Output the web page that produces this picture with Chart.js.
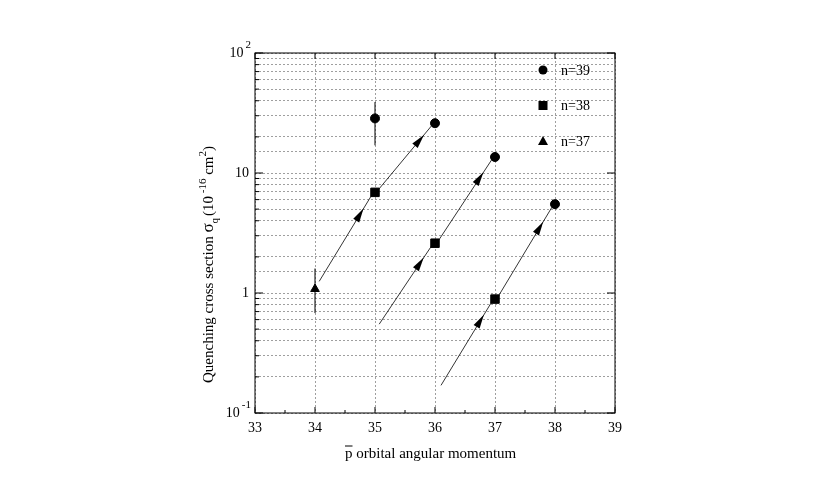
<!DOCTYPE html>
<html><head><meta charset="utf-8">
<script src="https://cdn.jsdelivr.net/npm/chart.js@4/dist/chart.umd.min.js"></script>
<style>html,body{margin:0;background:#fff}#w{width:820px;height:501px}</style>
</head><body><div id="w"><canvas id="c"></canvas></div>
<script>
const n39x=[35,36,37,38], n39y=[28.5,26,13.6,5.5];
const n38x=[35,36,37], n38y=[6.9,2.6,0.89];
const n37x=[34], n37y=[1.08];
const errX=[35,34], errLo=[17,0.68], errHi=[39,1.6];
const segs=[[34.07,1.25,34.95,6.6],[35.05,7.2,35.95,25],[35.07,0.55,35.95,2.5],[36.05,2.7,36.95,13],[36.1,0.17,36.95,0.85],[37.05,0.93,37.95,5.2]];
const xTicks=[33,34,35,36,37,38,39];
const F='"Liberation Serif",serif';
const pts=(xs,ys)=>xs.map((x,i)=>({x,y:ys[i]}));
const ds=[
 {data:pts(n39x,n39y),pointStyle:'circle',radius:4.5,backgroundColor:'#000',borderColor:'#000'},
 {data:pts(n38x,n38y),pointStyle:'rect',radius:6,backgroundColor:'#000',borderColor:'#000'},
 {data:pts(n37x,n37y),pointStyle:'triangle',radius:5,backgroundColor:'#000',borderColor:'#000'}
];
segs.forEach(s=>ds.push({data:[{x:s[0],y:s[1]},{x:s[2],y:s[3]}],showLine:true,radius:0,borderColor:'#000',borderWidth:0.8}));
errX.forEach((x,i)=>ds.push({data:[{x,y:errLo[i]},{x,y:errHi[i]}],showLine:true,radius:0,borderColor:'#000',borderWidth:1}));
const deco={id:'deco',afterDatasetsDraw(ch){
 const c=ch.ctx,a=ch.chartArea,xs=ch.scales.x,ys=ch.scales.y;
 c.save();
 c.strokeStyle='#000';c.lineWidth=1;c.strokeRect(a.left,a.top,a.right-a.left,a.bottom-a.top);
 segs.forEach(s=>{const x1=xs.getPixelForValue(s[0]),y1=ys.getPixelForValue(s[1]),x2=xs.getPixelForValue(s[2]),y2=ys.getPixelForValue(s[3]);
  const t=0.78,px=x1+(x2-x1)*t,py=y1+(y2-y1)*t,an=Math.atan2(y2-y1,x2-x1);
  c.save();c.translate(px,py);c.rotate(an);c.beginPath();c.moveTo(6,0);c.lineTo(-8,-3.5);c.lineTo(-8,3.5);c.closePath();c.fillStyle='#000';c.fill();c.restore();});
 c.fillStyle='#000';c.font='14px '+F;c.textAlign='center';c.textBaseline='top';
 xTicks.forEach(v=>{const x=xs.getPixelForValue(v);c.beginPath();c.moveTo(x,a.bottom);c.lineTo(x,a.bottom-6);c.moveTo(x,a.top);c.lineTo(x,a.top+6);c.stroke();c.fillText(String(v),x,a.bottom+8);});
 for(let v=33.5;v<39;v+=1){const x=xs.getPixelForValue(v);c.beginPath();c.moveTo(x,a.bottom);c.lineTo(x,a.bottom-3);c.stroke();}
 [0.1,1,10,100].forEach(v=>{const y=ys.getPixelForValue(v);c.beginPath();c.moveTo(a.left,y);c.lineTo(a.left+8,y);c.moveTo(a.right,y);c.lineTo(a.right-8,y);c.stroke();});
 for(let d=0.1;d<100;d*=10)for(let k=2;k<10;k++){const y=ys.getPixelForValue(d*k);c.beginPath();c.moveTo(a.left,y);c.lineTo(a.left+4,y);c.stroke();}
 c.textAlign='right';c.textBaseline='middle';c.font='14px '+F;
 const supLab=(y,base,sup)=>{c.font='11px '+F;c.textAlign='left';const sw=c.measureText(sup).width;c.fillText(sup,a.left-4-sw,y-8);c.font='14px '+F;c.textAlign='right';c.fillText(base,a.left-6-sw,y);};
 supLab(ys.getPixelForValue(100),'10','2');
 supLab(ys.getPixelForValue(0.1),'10','-1');
 c.fillText('10',a.left-6,ys.getPixelForValue(10));
 c.fillText('1',a.left-6,ys.getPixelForValue(1));
 const lx=a.left+288;c.textAlign='left';c.font='14px '+F;
 c.beginPath();c.arc(lx,70,4.5,0,7);c.fill();c.fillText('n=39',lx+18,71);
 c.fillRect(lx-4.5,101,9,9);c.fillText('n=38',lx+18,106);
 c.beginPath();c.moveTo(lx,136);c.lineTo(lx+5,145);c.lineTo(lx-5,145);c.closePath();c.fill();c.fillText('n=37',lx+18,142);
 c.font='15px '+F;c.textAlign='left';c.textBaseline='alphabetic';
 const tx=345,ty=458;c.fillText('p',tx,ty);const pw=c.measureText('p').width;
 c.beginPath();c.moveTo(tx,ty-12);c.lineTo(tx+pw,ty-12);c.stroke();
 c.fillText(' orbital angular momentum',tx+pw,ty);
 c.translate(213,233);c.rotate(-Math.PI/2);c.textAlign='left';
 let s='Quenching cross section ';c.font='15px '+F;let w=c.measureText(s).width;let x0=-150;
 c.fillText(s,x0,0);x0+=w;c.font='17px '+F;c.fillText('σ',x0,0);x0+=c.measureText('σ').width;
 c.font='11px '+F;c.fillText('q',x0,5);x0+=c.measureText('q').width+2;
 c.font='15px '+F;c.fillText('(10',x0,0);x0+=c.measureText('(10').width;
 c.font='11px '+F;c.fillText(' -16',x0,-7);x0+=c.measureText(' -16').width;
 c.font='15px '+F;c.fillText(' cm',x0,0);x0+=c.measureText(' cm').width;
 c.font='11px '+F;c.fillText('2',x0,-7);x0+=c.measureText('2').width;
 c.font='15px '+F;c.fillText(')',x0,0);
 c.restore();}};
new Chart(document.getElementById('c'),{type:'scatter',data:{datasets:ds},plugins:[deco],
 options:{responsive:true,maintainAspectRatio:false,animation:false,
  layout:{padding:{left:255,right:205,top:53,bottom:88}},
  plugins:{legend:{display:false},tooltip:{enabled:false}},
  scales:{
   x:{type:'linear',min:33,max:39,ticks:{display:false,stepSize:1},border:{display:false,dash:[2,2]},grid:{color:'#777',lineWidth:0.7,drawTicks:false}},
   y:{type:'logarithmic',min:0.1,max:100,ticks:{display:false},border:{display:false,dash:[2,2]},grid:{color:'#777',lineWidth:0.7,drawTicks:false}}
  }}});
</script></body></html>
